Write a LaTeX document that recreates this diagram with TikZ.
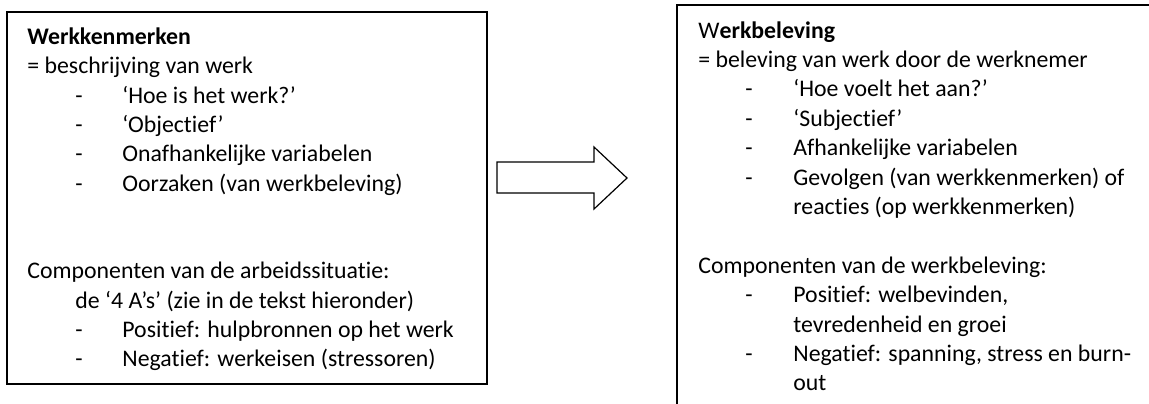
\documentclass[tikz,border=0pt]{standalone}
\usepackage{fontspec}
\setmainfont{Carlito}[Ligatures=NoCommon]
\usetikzlibrary{fit}
\begin{document}
\begin{tikzpicture}[x=0.5pt,y=-0.5pt,
  txt/.style={anchor=base west, inner sep=0pt, font=\fontsize{11.9pt}{14.5pt}\selectfont},
  frame/.style={draw=black, line width=0.8pt, inner sep=0pt},
  blockarrow/.style={draw=black, line width=0.6pt, fill=white, line join=miter}]
\useasboundingbox (0,0) rectangle (1149,403);
\clip (0,0) rectangle (1149,403);
% boxes
\node[frame, fit={(7,12) (487,384)}] (leftbox) {};
\node[frame, fit={(677,5) (1170,430)}] (rightbox) {};
% left text (pitch 29.3)
\node[txt] (l1) at (27,44.5) {\textbf{Werkkenmerken}};
\node[txt] (l2) at (27,73.8) {= beschrijving van werk};
\node[txt] (l3d) at (75,103.1) {-};
\node[txt] (l3) at (122,103.1) {‘Hoe is het werk?’};
\node[txt] (l4d) at (75,132.4) {-};
\node[txt] (l4) at (122,132.4) {‘Objectief’};
\node[txt] (l5d) at (75,161.7) {-};
\node[txt] (l5) at (122,161.7) {Onafhankelijke variabelen};
\node[txt] (l6d) at (75,191) {-};
\node[txt] (l6) at (122,191) {Oorzaken (van werkbeleving)};
\node[txt] (l7) at (27,278.9) {Componenten van de arbeidssituatie:};
\node[txt] (l8) at (75,308.2) {de ‘4 A’s’ (zie in de tekst hieronder)};
\node[txt] (l9d) at (75,337.5) {-};
\node[txt] (l9) at (122,337.5) {Positief: hulpbronnen op het werk};
\node[txt] (l10d) at (75,366.8) {-};
\node[txt] (l10) at (122,366.8) {Negatief: werkeisen (stressoren)};
% right text (pitch 29.4)
\node[txt] (r1) at (698,38) {W\textbf{erkbeleving}};
\node[txt] (r2) at (698,67.4) {= beleving van werk door de werknemer};
\node[txt] (r3d) at (745,96.8) {-};
\node[txt] (r3) at (793,96.8) {‘Hoe voelt het aan?’};
\node[txt] (r4d) at (745,126.2) {-};
\node[txt] (r4) at (793,126.2) {‘Subjectief’};
\node[txt] (r5d) at (745,155.6) {-};
\node[txt] (r5) at (793,155.6) {Afhankelijke variabelen};
\node[txt] (r6d) at (745,185) {-};
\node[txt] (r6) at (793,185) {Gevolgen (van werkkenmerken) of};
\node[txt] (r7) at (793,214.4) {reacties (op werkkenmerken)};
\node[txt] (r8) at (698,273.2) {Componenten van de werkbeleving:};
\node[txt] (r9d) at (745,302.6) {-};
\node[txt] (r9) at (793,302.6) {Positief: welbevinden,};
\node[txt] (r10) at (793,332) {tevredenheid en groei};
\node[txt] (r11d) at (745,361.4) {-};
\node[txt] (r11) at (793,361.4) {Negatief: spanning, stress en burn-};
\node[txt] (r12) at (793,390.8) {out};
% block arrow
\draw[blockarrow] (497,162) -- (594,162) -- (594,147) -- (627,178) -- (594,209) -- (594,193) -- (497,193) -- cycle;
\end{tikzpicture}
\end{document}
